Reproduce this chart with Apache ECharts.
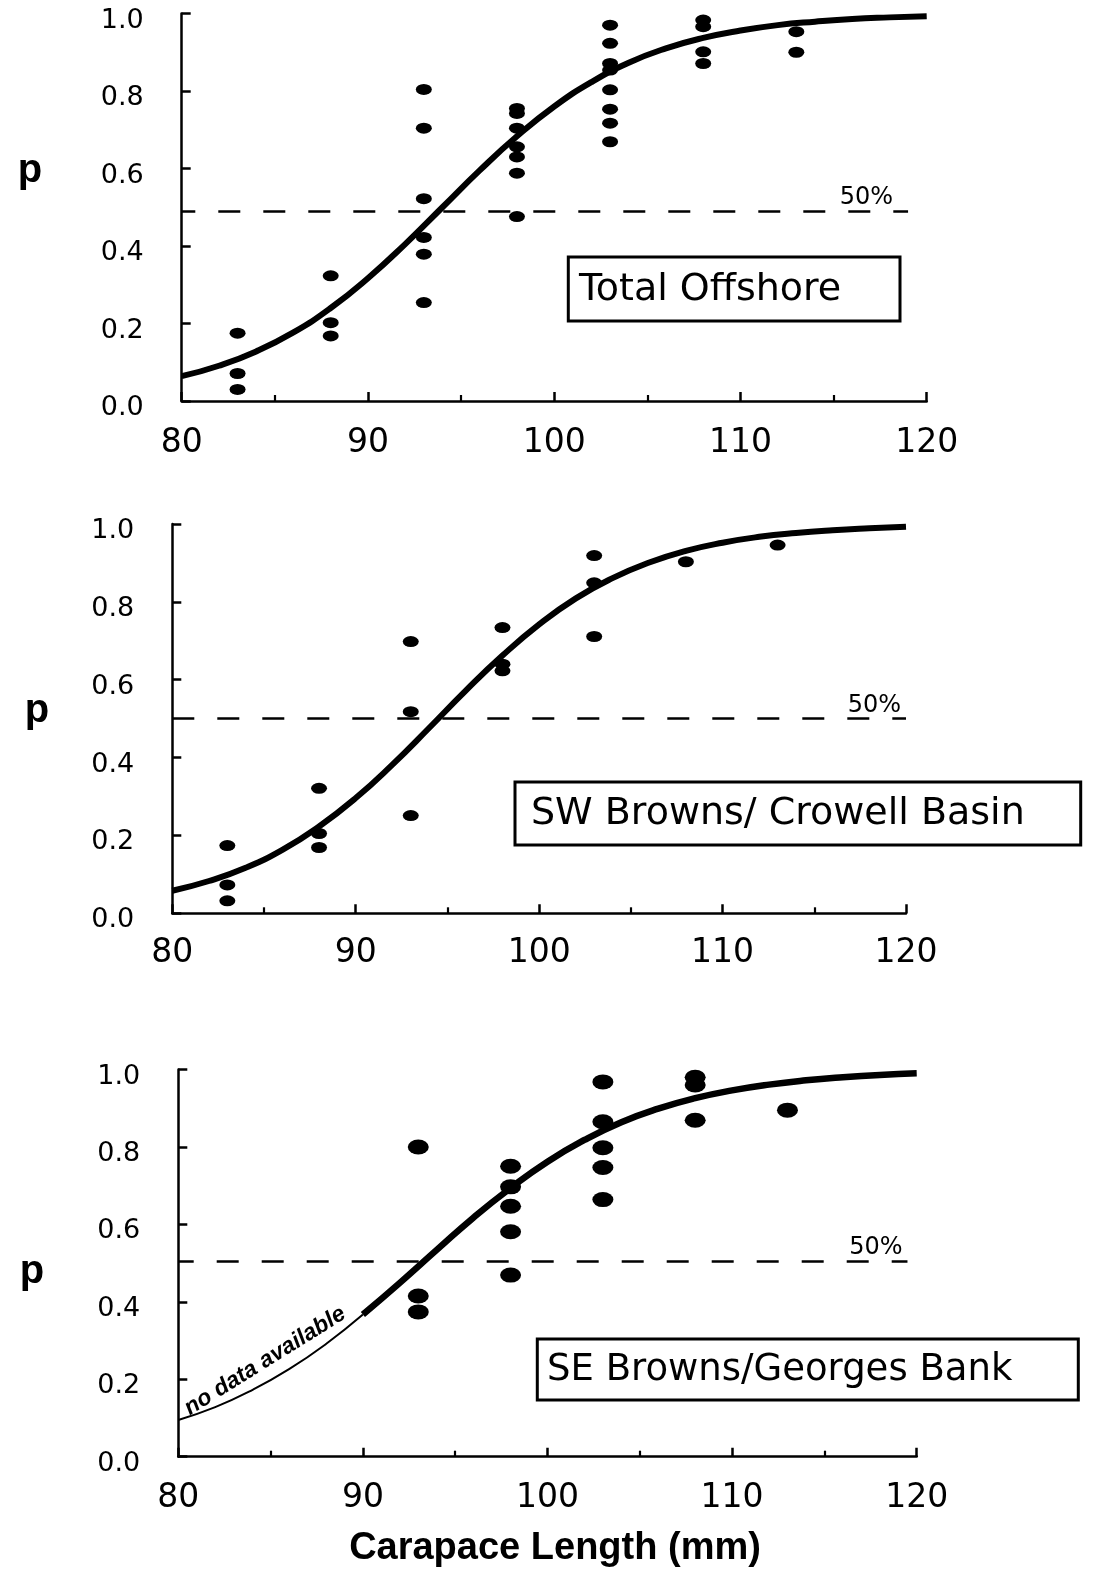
<!DOCTYPE html>
<html>
<head>
<meta charset="utf-8">
<script src="https://cdn.jsdelivr.net/npm/echarts@6/dist/echarts.min.js"></script>
<style>
html,body{margin:0;padding:0;background:#fff;}
#c{width:1094px;height:1579px;}
</style>
</head>
<body>
<div id="c"></div>
<script>
// ---- data ----
const panelNames = ['Total Offshore', 'SW Browns/ Crowell Basin', 'SE Browns/Georges Bank'];
const xTicks = [80, 90, 100, 110, 120];
const yTicks = [0.0, 0.2, 0.4, 0.6, 0.8, 1.0];

const totalPts = [
  [83,0.175],[83,0.071],[83,0.030],
  [88,0.323],[88,0.202],[88,0.168],
  [93,0.804],[93,0.704],[93,0.522],[93,0.422],[93,0.379],[93,0.254],
  [98,0.755],[98,0.742],[98,0.704],[98,0.656],[98,0.630],[98,0.588],[98,0.476],
  [103,0.970],[103,0.923],[103,0.871],[103,0.854],[103,0.803],[103,0.753],[103,0.717],[103,0.669],
  [108,0.983],[108,0.966],[108,0.901],[108,0.871],
  [113,0.953],[113,0.900]
];
const swPts = [
  [83,0.174],[83,0.073],[83,0.032],
  [88,0.321],[88,0.205],[88,0.169],
  [93,0.698],[93,0.518],[93,0.251],
  [98,0.734],[98,0.640],[98,0.623],
  [103,0.919],[103,0.849],[103,0.711],
  [108,0.903],
  [113,0.946]
];
const sePts = [
  [93,0.800],[93,0.415],[93,0.374],
  [98,0.750],[98,0.697],[98,0.647],[98,0.581],[98,0.469],
  [103,0.968],[103,0.865],[103,0.798],[103,0.747],[103,0.664],
  [108,0.980],[108,0.960],[108,0.869],
  [113,0.895]
];

const curveX     = [80,82,84,86,88,90,92,94,96,98,100,102,104,106,108,110,112,114,116,118,120];
const curveTotal = [0.064,0.091,0.128,0.177,0.240,0.317,0.405,0.500,0.595,0.683,0.760,0.823,0.873,0.910,0.937,0.956,0.970,0.979,0.986,0.990,0.993];
const curveSW    = [0.058,0.083,0.117,0.163,0.223,0.296,0.382,0.476,0.572,0.662,0.742,0.809,0.861,0.901,0.931,0.952,0.967,0.977,0.984,0.989,0.993];
const curveSE    = [0.095,0.128,0.172,0.226,0.291,0.367,0.449,0.534,0.618,0.694,0.762,0.818,0.864,0.899,0.926,0.946,0.961,0.972,0.980,0.986,0.990];
const seDataStart = 90;   // SE curve: no data below this length (thin line)

const fiftyLevel = [0.49, 0.50, 0.505];
const fiftyEnd   = [119, 120, 119.5];

// ---- layout ----
const grids = [
  {left:181.7, top:13.5,   width:745,   height:387.5},
  {left:172.3, top:524,    width:733.7, height:389.3},
  {left:178.3, top:1069.5, width:738.4, height:387.2}
];
const xLabelMargin = [26, 24, 25];
const dashOffsets = [8.4, 0, 6.6];
const dotSizes = [[16,11],[16,11],[21,15]];

const chart = echarts.init(document.getElementById('c'), null, {renderer:'canvas', width:1094, height:1579});

const pairs = (xs, ys) => xs.map((x, k) => [x, ys[k]]);
const curves = [pairs(curveX, curveTotal), pairs(curveX, curveSW), pairs(curveX, curveSE)];
const pts = [totalPts, swPts, sePts];

const xAxes = [], yAxes = [], series = [];
for (let i = 0; i < 3; i++) {
  xAxes.push({
    type:'value', gridIndex:i, min:xTicks[0], max:xTicks[xTicks.length-1], interval:10,
    axisLine:{show:true, lineStyle:{color:'#000', width:2.5}},
    axisTick:{show:true, inside:true, length:9, lineStyle:{color:'#000', width:2.5}},
    minorTick:{show:true, splitNumber:2, length:6, lineStyle:{color:'#000', width:2.2}},
    splitLine:{show:false},
    axisLabel:{color:'#000', fontFamily:'DejaVu Sans', fontSize:33, margin:xLabelMargin[i]}
  });
  yAxes.push({
    type:'value', gridIndex:i, min:yTicks[0], max:yTicks[yTicks.length-1], interval:0.2,
    axisLine:{show:true, lineStyle:{color:'#000', width:2.5}},
    axisTick:{show:true, inside:true, length:9, lineStyle:{color:'#000', width:2.5}},
    splitLine:{show:false},
    axisLabel:{color:'#000', fontFamily:'DejaVu Sans', fontSize:27, margin:38,
      verticalAlign:'top', lineHeight:14, formatter:v => v.toFixed(1)}
  });

  const fiftyLine = {
    silent:true, symbol:'none',
    lineStyle:{color:'#000', width:2.6, type:[22,23], dashOffset:dashOffsets[i]},
    label:{show:true, position:'insideEndTop', formatter:'50%', color:'#000',
      fontFamily:'DejaVu Sans', fontSize:24, distance:[i===0?15:5, 1]},
    data:[[{coord:[80, fiftyLevel[i]]}, {coord:[fiftyEnd[i], fiftyLevel[i]]}]]
  };

  if (i < 2) {
    series.push({
      type:'line', xAxisIndex:i, yAxisIndex:i, data:curves[i], smooth:true,
      showSymbol:false, silent:true, lineStyle:{color:'#000', width:6}, z:3
    });
  } else {
    series.push({
      type:'line', xAxisIndex:i, yAxisIndex:i, data:curves[i].filter(d => d[0] <= seDataStart),
      smooth:true, showSymbol:false, silent:true, lineStyle:{color:'#000', width:2}, z:3
    });
    series.push({
      type:'line', xAxisIndex:i, yAxisIndex:i, data:curves[i].filter(d => d[0] >= seDataStart),
      smooth:true, showSymbol:false, silent:true, lineStyle:{color:'#000', width:6.5}, z:3
    });
    series.push({
      type:'scatter', xAxisIndex:i, yAxisIndex:i, data:[[84.7, 0.247]], symbolSize:1,
      silent:true, itemStyle:{color:'rgba(0,0,0,0)', opacity:1},
      label:{show:true, position:'inside', rotate:32, formatter:'no data available', opacity:1,
        color:'#000', fontFamily:'Liberation Sans', fontStyle:'italic', fontWeight:'bold', fontSize:23},
      z:5
    });
  }
  series.push({
    type:'scatter', xAxisIndex:i, yAxisIndex:i, data:pts[i], symbol:'circle',
    symbolSize:dotSizes[i], itemStyle:{color:'#000', opacity:1}, silent:true, z:4,
    markLine:fiftyLine
  });
}

// panel boxes & axis letters
const boxes = [
  {x:568.3, y:257, w:331.7, h:64, tx:579, fs:38},
  {x:515,   y:782, w:565.7, h:63, tx:531, fs:38},
  {x:537.3, y:1339, w:541, h:61, tx:547, fs:37}
];
const pPos = [[30,171],[37,711],[32,1272]];
const graphic = [];
boxes.forEach((b, i) => {
  graphic.push({type:'rect', shape:{x:b.x, y:b.y, width:b.w, height:b.h},
    style:{fill:'#fff', stroke:'#000', lineWidth:3}, z:10});
  graphic.push({type:'text', x:b.tx, y:b.y + b.h/2 + 1, z:11,
    style:{text:panelNames[i], fill:'#000', font:b.fs + 'px "DejaVu Sans"',
      align:'left', verticalAlign:'middle', textAlign:'left', textVerticalAlign:'middle'}});
  graphic.push({type:'text', x:pPos[i][0], y:pPos[i][1], z:11,
    style:{text:'p', fill:'#000', font:'bold 40px "Liberation Sans"',
      align:'center', verticalAlign:'middle', textAlign:'center', textVerticalAlign:'middle'}});
});
graphic.push({type:'text', x:555, y:1549, z:11,
  style:{text:'Carapace Length (mm)', fill:'#000', font:'bold 38px "Liberation Sans"',
    align:'center', verticalAlign:'middle', textAlign:'center', textVerticalAlign:'middle'}});

chart.setOption({
  backgroundColor:'#fff',
  animation:false,
  grid:grids,
  xAxis:xAxes,
  yAxis:yAxes,
  series:series,
  graphic:graphic
});
</script>
</body>
</html>
